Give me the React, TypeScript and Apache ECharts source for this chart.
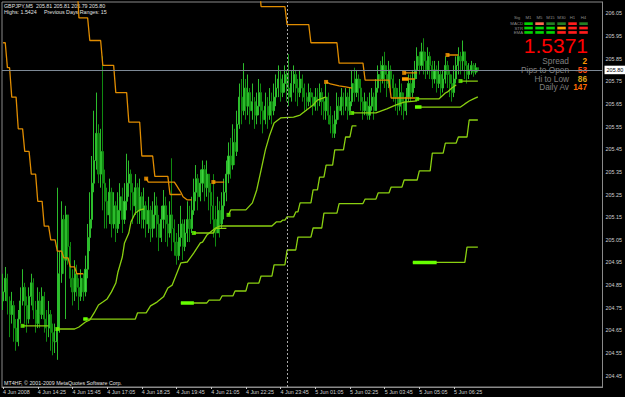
import React, { useEffect, useRef } from "react";
import * as echarts from "echarts";

// ---------- data ----------
const firstOpen = 204.78;
const closes = [
  204.82, 204.88, 204.78, 204.72, 204.76, 204.66, 204.60, 204.70, 204.78, 204.84,
  204.76, 204.70, 204.80, 204.86, 204.74, 204.68, 204.78, 204.72, 204.80, 204.70,
  204.66, 204.72, 204.64, 204.60, 204.60, 204.66, 204.90, 205.14, 204.96, 205.16,
  205.02, 204.88, 204.82, 204.90, 204.84, 204.80, 204.88, 204.82, 204.92, 205.06,
  205.14, 205.30, 205.40, 205.52, 205.34, 205.44, 205.30, 205.22,
  205.16, 205.26, 205.12, 205.20, 205.10, 205.18, 205.24, 205.14, 205.22, 205.30,
  205.34, 205.26, 205.20, 205.28, 205.18, 205.24, 205.14, 205.20, 205.12, 205.18,
  205.10, 205.16, 205.20, 205.12, 205.06, 205.14, 205.20, 205.12, 205.08, 205.16,
  205.10, 205.04, 204.98, 205.06, 205.12, 205.02, 205.08, 205.14, 205.10, 205.18,
  205.26, 205.32, 205.24, 205.30, 205.36, 205.28, 205.34, 205.26, 205.20,
  205.14, 205.08, 205.18, 205.12, 205.20, 205.26,
  205.34, 205.42, 205.38, 205.48, 205.44, 205.56,
  205.68, 205.62, 205.72, 205.64, 205.70,
  205.62, 205.66, 205.60, 205.64, 205.70, 205.62, 205.58, 205.64, 205.60, 205.66, 205.62, 205.68,
  205.72, 205.76, 205.70, 205.74, 205.78, 205.72, 205.68, 205.74, 205.78, 205.72, 205.70, 205.76, 205.72, 205.68,
  205.66, 205.70, 205.68, 205.64, 205.68, 205.66, 205.70, 205.66, 205.62,
  205.68, 205.60, 205.56, 205.52, 205.58, 205.64, 205.62, 205.68,
  205.64, 205.68, 205.62, 205.66,
  205.74, 205.70, 205.76, 205.72, 205.66,
  205.62, 205.66, 205.60, 205.64, 205.68, 205.62,
  205.72, 205.78, 205.76, 205.82, 205.78, 205.74, 205.80, 205.76, 205.72,
  205.68, 205.64, 205.70, 205.66, 205.62, 205.68, 205.74, 205.70, 205.76, 205.80,
  205.86, 205.82, 205.88, 205.84, 205.80, 205.86, 205.82,
  205.76, 205.80, 205.74, 205.78, 205.72, 205.76, 205.82, 205.78, 205.74, 205.70, 205.76,
  205.82, 205.86, 205.84, 205.88, 205.82, 205.78,
  205.80, 205.82, 205.79, 205.81, 205.80,
];
const highs = [
  204.90, 204.93, 204.90, 204.80, 204.82, 204.78, 204.70, 204.74, 204.84, 204.92,
  204.86, 204.80, 204.84, 204.90, 204.88, 204.78, 204.84, 204.82, 204.84, 204.82,
  204.74, 204.78, 204.74, 204.68, 204.68, 205.28, 205.00, 205.22, 205.16, 205.20,
  205.14, 205.04, 204.92, 204.96, 204.94, 204.88, 204.92, 204.90, 204.98, 205.12,
  205.26, 205.42, 205.62, 205.70, 205.56, 205.54, 205.86, 205.36,
  205.28, 205.32, 205.28, 205.26, 205.22, 205.26, 205.30, 205.28, 205.30, 205.43,
  205.40, 205.36, 205.30, 205.34, 205.30, 205.32, 205.26, 205.28, 205.22, 205.24,
  205.20, 205.22, 205.26, 205.24, 205.16, 205.20, 205.27, 205.24, 205.16, 205.22,
  205.41, 205.14, 205.08, 205.12, 205.20, 205.14, 205.14, 205.22, 205.20, 205.24,
  205.32, 205.38, 205.34, 205.36, 205.40, 205.38, 205.40, 205.34, 205.30,
  205.34, 205.20, 205.24, 205.22, 205.26, 205.32,
  205.40, 205.48, 205.50, 205.56, 205.54, 205.62,
  205.74, 205.76, 205.83, 205.76, 205.78,
  205.72, 205.74, 205.68, 205.70, 205.76, 205.74, 205.66, 205.70, 205.68, 205.72, 205.70, 205.74,
  205.78, 205.82, 205.80, 205.78, 205.82, 205.80, 205.87, 205.80, 205.82, 205.80, 205.76, 205.80, 205.78, 205.74,
  205.70, 205.74, 205.72, 205.70, 205.72, 205.72, 205.74, 205.72, 205.68,
  205.74, 205.70, 205.64, 205.60, 205.62, 205.70, 205.68, 205.72,
  205.70, 205.72, 205.70, 205.72,
  205.80, 205.81, 205.80, 205.78, 205.76,
  205.68, 205.70, 205.68, 205.70, 205.72, 205.70,
  205.76, 205.82, 205.84, 205.86, 205.88, 205.82, 205.84, 205.82, 205.78,
  205.74, 205.72, 205.76, 205.74, 205.70, 205.72, 205.78, 205.78, 205.80, 205.84,
  205.90, 205.88, 205.92, 205.94, 205.88, 205.90, 205.88,
  205.84, 205.84, 205.82, 205.84, 205.80, 205.80, 205.86, 205.84, 205.80, 205.78, 205.82,
  205.86, 205.90, 205.88, 205.93, 205.88, 205.84,
  205.83, 205.84, 205.83, 205.83, 205.81,
];
const lows = [
  204.74, 204.78, 204.72, 204.62, 204.68, 204.60, 204.56, 204.58, 204.68, 204.76,
  204.68, 204.64, 204.68, 204.76, 204.70, 204.64, 204.66, 204.66, 204.70, 204.64,
  204.60, 204.62, 204.56, 204.54, 204.55, 204.52, 204.64, 204.86, 204.90, 204.70,
  204.94, 204.84, 204.76, 204.78, 204.80, 204.74, 204.78, 204.78, 204.80, 204.88,
  205.00, 205.10, 205.26, 205.36, 205.30, 205.28, 205.18, 205.10,
  205.10, 205.12, 205.06, 205.10, 205.04, 205.08, 205.12, 205.08, 205.12, 205.18,
  205.24, 205.18, 205.12, 205.16, 205.12, 205.12, 205.10, 205.10, 205.06, 205.08,
  205.04, 205.06, 205.10, 205.06, 205.00, 205.04, 205.10, 205.04, 205.02, 205.06,
  205.00, 204.98, 204.94, 204.96, 205.02, 204.96, 205.00, 205.04, 205.04, 205.08,
  205.16, 205.22, 205.18, 205.22, 205.26, 205.22, 205.24, 205.18, 205.12,
  205.06, 205.02, 205.08, 205.06, 205.10, 205.14,
  205.22, 205.30, 205.32, 205.36, 205.38, 205.42,
  205.54, 205.56, 205.60, 205.58, 205.60,
  205.56, 205.58, 205.54, 205.56, 205.60, 205.56, 205.52, 205.56, 205.54, 205.58, 205.56, 205.60,
  205.64, 205.68, 205.66, 205.68, 205.70, 205.66, 205.64, 205.66, 205.70, 205.66, 205.64, 205.68, 205.66, 205.62,
  205.62, 205.64, 205.64, 205.60, 205.62, 205.62, 205.64, 205.60, 205.58,
  205.58, 205.56, 205.52, 205.50, 205.50, 205.56, 205.58, 205.60,
  205.60, 205.62, 205.58, 205.60,
  205.64, 205.66, 205.68, 205.66, 205.62,
  205.58, 205.60, 205.58, 205.58, 205.62, 205.58,
  205.62, 205.70, 205.70, 205.74, 205.72, 205.68, 205.72, 205.70, 205.66,
  205.62, 205.60, 205.62, 205.60, 205.58, 205.60, 205.66, 205.66, 205.68, 205.72,
  205.76, 205.78, 205.80, 205.78, 205.76, 205.78, 205.76,
  205.72, 205.74, 205.70, 205.72, 205.68, 205.70, 205.74, 205.72, 205.68, 205.66, 205.68,
  205.74, 205.78, 205.78, 205.80, 205.76, 205.74,
  205.76, 205.78, 205.77, 205.78, 205.79,
];

// x axis: 5-minute bars from 4 Jun 13:05, a label every 16 bars
const TOTAL_SLOTS = 277;
const TICK_EVERY = 16;
const xTickLabels = [
  "4 Jun 2008", "4 Jun 14:25", "4 Jun 15:45", "4 Jun 17:05", "4 Jun 18:25", "4 Jun 19:45",
  "4 Jun 21:05", "4 Jun 22:25", "4 Jun 23:45", "5 Jun 01:05", "5 Jun 02:25", "5 Jun 03:45",
  "5 Jun 05:05", "5 Jun 06:25",
];
const daySeparatorIndex = 131;
const bidPrice = 205.8;

// indicator lines: [bar index, price]
const orangeA = [[0,205.92],[1,205.92],[2,205.81],[3,205.81],[4,205.68],[6,205.68],[7,205.54],[9,205.54],[10,205.44],[12,205.44],[13,205.34],[15,205.34],[16,205.22],[18,205.22],[19,205.11],[21,205.11],[22,205.05],[24,205.05],[25,205.0],[27,205.0],[28,204.97],[30,204.97],[31,204.93],[33,204.93],[34,204.9],[37,204.9]];
const orangeB = [[34,206.2],[35,206.03],[39,206.03],[40,205.93],[45,205.93],[46,205.82],[51,205.82],[52,205.7],[57,205.7],[58,205.57],[63,205.57],[64,205.42],[69,205.42],[70,205.33],[76,205.33],[77,205.25],[82,205.25]];
const orangeC = [[66,205.32],[67,205.305],[79,205.305],[80,205.29],[81,205.275],[82,205.26],[83,205.24],[85,205.226],[87,205.226]];
const orangeD = [[97,205.305],[102,205.305]];
const orangeE = [[118,206.2],[119,206.08],[130,206.08],[131,206.0],[141,206.0],[142,205.92],[154,205.92],[155,205.83],[166,205.83],[167,205.755],[178,205.755],[179,205.676],[190,205.676]];
const orangeF = [[149,205.747],[151,205.738],[155,205.73],[158,205.725],[161,205.72]];
const orangeG = [[185,205.787],[191,205.787]];
const orangeH = [[184,205.76],[190,205.76]];
const orangeI = [[205,205.866],[210,205.866]];
const orangeThick = [[184,205.76],[187,205.76]];
const orangeMarkers = [[66,205.32],[97,205.305],[149,205.747],[185,205.787],[205,205.866]];

const greenG1 = [[9,204.67],[21,204.67]];
const greenG2 = [[25,204.656],[33,204.656],[35,204.665],[38,204.687],[40,204.696],[42,204.727],[44,204.762],[46,204.775],[48,204.789],[50,204.82],[52,204.859],[53,204.908],[55,204.974],[56,205.036],[58,205.08],[59,205.129],[61,205.168],[63,205.182],[65,205.186]];
const greenG3 = [[37,204.7],[61,204.7],[62,204.727],[66,204.727],[68,204.758],[71,204.775],[74,204.798],[76,204.837],[78,204.85],[82,204.948],[85,204.952],[88,204.992],[91,205.036],[92,205.04],[94,205.071],[98,205.102],[100,205.111],[124,205.111],[126,205.129],[128,205.129],[129,205.137],[130,205.137],[131,205.151],[134,205.151],[135,205.173],[136,205.173],[137,205.213],[142,205.213],[143,205.27],[145,205.27],[146,205.327],[148,205.327],[149,205.38],[152,205.38],[153,205.447],[157,205.447],[158,205.504],[160,205.504],[161,205.553],[163,205.553]];
const greenG4 = [[82,204.771],[94,204.771],[95,204.784],[100,204.784],[101,204.802],[106,204.802],[107,204.824],[112,204.824],[113,204.859],[118,204.859],[119,204.89],[124,204.89],[125,204.939],[130,204.939],[131,205.005],[135,205.005],[136,205.062],[142,205.062],[143,205.102],[147,205.102],[148,205.168],[154,205.168],[155,205.21],[166,205.21],[167,205.23],[172,205.23],[173,205.257],[178,205.257],[179,205.283],[184,205.283],[185,205.314],[191,205.314],[192,205.354],[197,205.354],[198,205.433],[203,205.433],[204,205.477],[209,205.477],[210,205.504],[214,205.504],[215,205.579],[219,205.579]];
const greenG5 = [[104,205.16],[105,205.182],[112,205.182],[115,205.213],[117,205.27],[119,205.358],[121,205.447],[123,205.513],[125,205.566],[128,205.588],[134,205.592],[137,205.601],[140,205.623],[143,205.645],[145,205.667],[149,205.681]];
const greenG6 = [[161,205.61],[172,205.61],[177,205.628],[181,205.645],[185,205.658],[191,205.663]];
const greenG7 = [[191,205.672],[201,205.672],[204,205.698],[205,205.703],[207,205.72],[209,205.734]];
const greenG8 = [[190,205.636],[211,205.636],[213,205.65],[215,205.663],[217,205.672],[219,205.681]];
const greenG9 = [[189,204.95],[213,204.95],[214,205.018],[219,205.018]];
const greenG10 = [[211,205.751],[219,205.751]];
const greenG11 = [[88,205.08],[97,205.08],[98,205.1],[103,205.1]];
const greenThick = [
  [[82,204.771],[88,204.771]],
  [[189,204.95],[200,204.95]],
  [[190,205.636],[193,205.636]],
  [[37,204.7],[39,204.7]],
];
const greenMarkers = [[9,204.67],[25,204.656],[88,205.08],[104,205.16],[161,205.61],[191,205.672],[211,205.751]];

// info panel
const panelCols = ["M1", "M5", "M15", "M30", "H1", "H4"];
const panelRows = ["MACD", "STR", "EMA"];
const panelColors = [
  ["#00d400", "#ff6a50", "#237f23", "#237f23", "#ff1c1c", "#237f23"],
  ["#00d400", "#00d400", "#00d400", "#ffa000", "#ff1c1c", "#ff1c1c"],
  ["#00d400", "#00d400", "#00d400", "#ff1c1c", "#ff1c1c", "#ff1c1c"],
];
const bigQuote = "1.5371";
const infoLabels = ["Spread", "Pips to Open", "Hi to Low", "Daily Av"];
const infoValues = ["2", "-53", "86", "147"];
const infoColors = ["#ff9a00", "#ff4a10", "#d8a018", "#ff6a00"];
const headerLine1 = "GBPJPY,M5  205.81 205.81 205.79 205.80";
const headerLine2 = "Highs: 1.5424     Previous Days Ranges: 15";
const footerText = "MT4HF, \u00a9 2001-2009 MetaQuotes Software Corp.";

// ---------- chart ----------
const FONT = "'Liberation Sans', Arial, sans-serif";

const categories: string[] = [];
for (let i = 0; i < TOTAL_SLOTS; i++) {
  const m = 13 * 60 + 5 + 5 * i;
  const day = 4 + Math.floor(m / 1440);
  const mm = m % 1440;
  const hh = Math.floor(mm / 60);
  const mi = mm % 60;
  categories.push(`${day} Jun ${String(hh).padStart(2, "0")}:${String(mi).padStart(2, "0")}`);
}
const showTick = (idx: number) => idx % TICK_EVERY === 0 && idx / TICK_EVERY < xTickLabels.length;

function lineSeries(pts: number[][], color: string, width = 1.3, z = 3) {
  return {
    type: "line",
    data: pts,
    showSymbol: false,
    symbol: "none",
    silent: true,
    z,
    lineStyle: { color, width },
    clip: true,
  };
}

export default function App() {
  const ref = useRef<HTMLDivElement>(null);
  useEffect(() => {
    if (!ref.current) return;
    const chart = echarts.init(ref.current, undefined, { renderer: "svg" });
    const candleData = closes.map((c, i) => {
      const o = i === 0 ? firstOpen : closes[i - 1];
      return [o, c, Math.min(lows[i], o, c), Math.max(highs[i], o, c)];
    });

    const ORANGE = "#e08c00";
    const GREEN = "#8ad010";
    const series: any[] = [
      {
        type: "candlestick",
        data: candleData,
        barWidth: 1.6,
        z: 2,
        silent: true,
        itemStyle: {
          color: "#3fd83f",
          color0: "#0d6e0d",
          borderColor: "#2cbc2c",
          borderColor0: "#108a10",
          borderWidth: 1,
        },
        markLine: {
          silent: true,
          symbol: ["none", "none"],
          animation: false,
          data: [
            {
              yAxis: bidPrice,
              lineStyle: { color: "#7d8996", width: 1, type: "solid" },
              label: {
                show: true,
                position: "end",
                formatter: bidPrice.toFixed(2),
                backgroundColor: "#ffffff",
                color: "#000000",
                fontSize: 5.5,
                fontFamily: FONT,
                padding: [1.5, 2, 1, 2],
                distance: 2,
              },
            },
            {
              xAxis: categories[daySeparatorIndex],
              lineStyle: { color: "#a8a8a8", width: 1, type: [2, 2] },
              label: { show: false },
            },
          ],
        },
      },
    ];
    [orangeA, orangeB, orangeC, orangeD, orangeE, orangeF, orangeG, orangeH, orangeI].forEach((p) =>
      series.push(lineSeries(p, ORANGE))
    );
    [greenG1, greenG2, greenG3, greenG4, greenG5, greenG6, greenG7, greenG8, greenG9, greenG10, greenG11].forEach((p) =>
      series.push(lineSeries(p, GREEN))
    );
    greenThick.forEach((p) => series.push(lineSeries(p, "#66ff00", 3.5, 4)));
    series.push(lineSeries(orangeThick, "#ff9c00", 3.5, 4));
    series.push({
      type: "scatter",
      data: orangeMarkers,
      symbol: "rect",
      symbolSize: [4, 4],
      itemStyle: { color: "#ff9c00" },
      z: 5,
      silent: true,
    });
    series.push({
      type: "scatter",
      data: greenMarkers,
      symbol: "rect",
      symbolSize: [4, 4],
      itemStyle: { color: "#66ff00" },
      z: 5,
      silent: true,
    });

    const graphic: any[] = [
      { type: "text", x: 4, y: 3, style: { text: headerLine1, fill: "#e0e0e0", fontSize: 5.3, fontFamily: FONT, verticalAlign: "top" } },
      { type: "text", x: 4, y: 9, style: { text: headerLine2, fill: "#e0e0e0", fontSize: 5.3, fontFamily: FONT, verticalAlign: "top" } },
      { type: "text", x: 4, y: 380, style: { text: footerText, fill: "#e0e0e0", fontSize: 5.3, fontFamily: FONT, verticalAlign: "top" } },
      { type: "text", x: 517, y: 17, style: { text: "Sig", fill: "#8c8c8c", fontSize: 4.3, fontFamily: FONT, align: "center", verticalAlign: "middle" } },
    ];
    const colX0 = 524.3;
    const colW = 11;
    panelCols.forEach((c, j) => {
      graphic.push({ type: "text", x: colX0 + j * colW + 4.2, y: 17, style: { text: c, fill: "#8c8c8c", fontSize: 4.3, fontFamily: FONT, align: "center", verticalAlign: "middle" } });
    });
    panelRows.forEach((r, k) => {
      const y = 22.3 + k * 4.4;
      graphic.push({ type: "text", x: 523, y: y + 1.3, style: { text: r, fill: "#8c8c8c", fontSize: 4.3, fontFamily: FONT, align: "right", verticalAlign: "middle" } });
      panelColors[k].forEach((col, j) => {
        graphic.push({ type: "rect", shape: { x: colX0 + j * colW, y, width: 8.5, height: 2.7 }, style: { fill: col } });
      });
    });
    graphic.push({ type: "text", x: 588, y: 45.5, style: { text: bigQuote, fill: "#ff0000", fontSize: 21, fontFamily: FONT, align: "right", verticalAlign: "middle" } });
    infoLabels.forEach((t, k) => {
      const y = 61.3 + k * 8.7;
      graphic.push({ type: "text", x: 569, y, style: { text: t, fill: "#7f7f7f", fontSize: 8.3, fontFamily: FONT, align: "right", verticalAlign: "middle" } });
      graphic.push({ type: "text", x: 587, y, style: { text: infoValues[k], fill: infoColors[k], fontSize: 8.3, fontFamily: FONT, fontWeight: "bold", align: "right", verticalAlign: "middle" } });
    });

    chart.setOption({
      animation: false,
      backgroundColor: "#000000",
      grid: { left: 2, right: 22, top: 2, bottom: 10, show: true, borderColor: "#8a8a8a", borderWidth: 1, containLabel: false },
      xAxis: {
        type: "category",
        data: categories,
        boundaryGap: true,
        axisLine: { show: true, lineStyle: { color: "#8a8a8a" } },
        axisTick: { show: true, interval: (idx: number) => showTick(idx), alignWithLabel: true, length: 2, lineStyle: { color: "#c8c8c8" } },
        axisLabel: {
          interval: (idx: number) => showTick(idx),
          formatter: (_v: string, idx: number) => (showTick(idx) ? xTickLabels[idx / TICK_EVERY] : ""),
          color: "#d0d0d0",
          fontSize: 5.4,
          fontFamily: FONT,
          align: "left",
          margin: 2,
        },
        splitLine: { show: false },
      },
      yAxis: {
        type: "value",
        position: "right",
        min: 204.4,
        max: 206.1,
        interval: 0.05,
        axisLine: { show: true, lineStyle: { color: "#8a8a8a" } },
        axisTick: { show: false },
        splitLine: { show: false },
        axisLabel: {
          color: "#d0d0d0",
          fontSize: 5.4,
          fontFamily: FONT,
          margin: 3,
          showMinLabel: false,
          showMaxLabel: false,
          formatter: (v: number) => {
            const k = Math.round(v * 100);
            return k % 10 === 5 ? (k / 100).toFixed(2) : "";
          },
        },
      },
      series,
      graphic,
    });
    return () => chart.dispose();
  }, []);
  return (
    <div style={{ position: "fixed", left: 0, top: 0, width: 625, height: 397, background: "#000" }}>
      <div ref={ref} style={{ width: 625, height: 397 }} />
    </div>
  );
}
